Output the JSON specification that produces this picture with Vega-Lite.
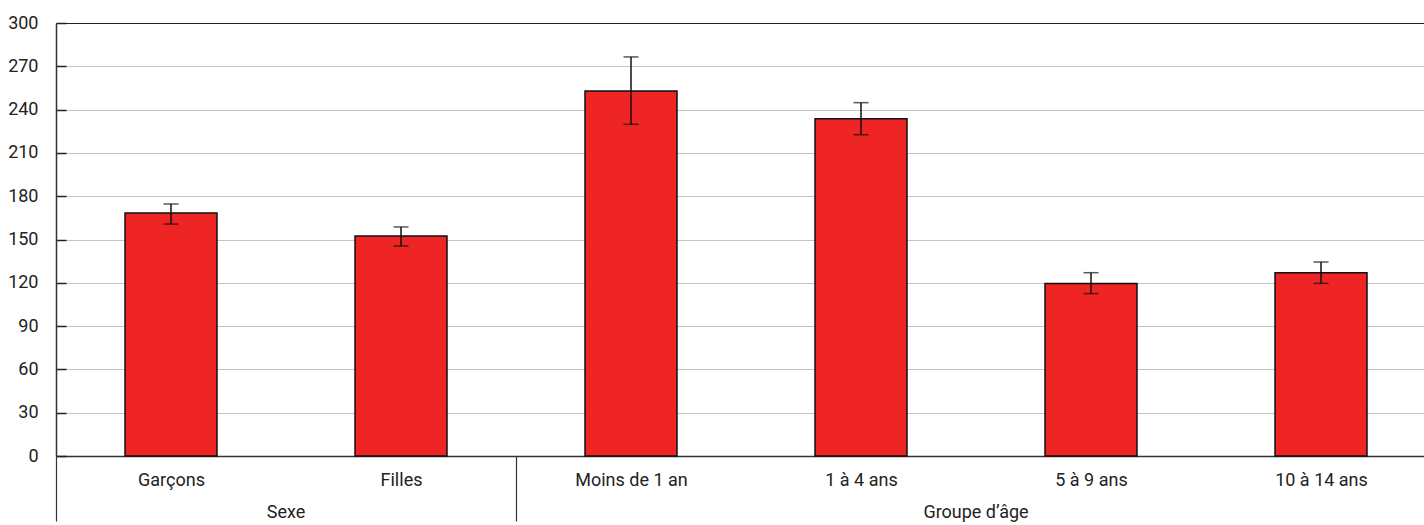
{
  "$schema": "https://vega.github.io/schema/vega-lite/v6.json",
  "width": 1380,
  "height": 433,
  "autosize": "none",
  "padding": {"left": 56, "top": 23, "right": 0, "bottom": 69},
  "background": "white",
  "config": {
    "view": {"stroke": null},
    "font": "Roboto",
    "axis": {"labelFont": "Roboto", "labelFontSize": 18, "labelColor": "#222"}
  },
  "datasets": {
    "bars": [
      {"cat": "Garçons", "group": "Sexe", "value": 168.4, "lo": 160.7, "hi": 174.6},
      {"cat": "Filles", "group": "Sexe", "value": 152.4, "lo": 145.5, "hi": 158.7},
      {"cat": "Moins de 1 an", "group": "Groupe d’âge", "value": 252.9, "lo": 229.8, "hi": 276.5},
      {"cat": "1 à 4 ans", "group": "Groupe d’âge", "value": 233.7, "lo": 222.6, "hi": 244.8},
      {"cat": "5 à 9 ans", "group": "Groupe d’âge", "value": 119.6, "lo": 112.5, "hi": 127.0},
      {"cat": "10 à 14 ans", "group": "Groupe d’âge", "value": 127.0, "lo": 119.6, "hi": 134.4}
    ],
    "groups": [
      {"cat": "Filles", "label": "Sexe"},
      {"cat": "5 à 9 ans", "label": "Groupe d’âge"}
    ]
  },
  "data": {"name": "bars"},
  "encoding": {
    "x": {
      "field": "cat",
      "type": "nominal",
      "sort": null,
      "scale": {"paddingInner": 0.6, "paddingOuter": 0.3},
      "axis": {
        "title": null,
        "labelAngle": 0,
        "domainColor": "#333",
        "domainWidth": 1.5,
        "tickSize": 65,
        "tickWidth": 1.2,
        "tickColor": "#333",
        "tickOffset": -115,
        "labelOffset": 115,
        "tickOpacity": {"condition": {"test": "datum.value === 'Garçons' || datum.value === 'Moins de 1 an'", "value": 1}, "value": 0},
        "labelPadding": -50,
        "labelBaseline": "top"
      }
    }
  },
  "layer": [
    {
      "mark": {"type": "bar", "fill": "#EE2524", "stroke": "#111", "strokeWidth": 1.5},
      "encoding": {
        "y": {
          "field": "value",
          "type": "quantitative",
          "scale": {"domain": [0, 300], "nice": false},
          "axis": {
            "title": null,
            "values": [0, 30, 60, 90, 120, 150, 180, 210, 240, 270, 300],
            "grid": true,
            "gridColor": {"condition": {"test": "datum.value === 300", "value": "#222"}, "value": "#c4c4c4"},
            "gridWidth": 1.2,
            "domainColor": "#333",
            "domainWidth": 1.5,
            "tickSize": -10,
            "tickColor": "#222",
            "tickWidth": 1.5,
            "labelPadding": 28
          }
        }
      }
    },
    {
      "mark": {"type": "rule", "color": "#111", "strokeWidth": 1.5},
      "encoding": {"y": {"field": "lo", "type": "quantitative"}, "y2": {"field": "hi"}}
    },
    {
      "mark": {"type": "tick", "color": "#111", "size": 15, "thickness": 1.5},
      "encoding": {"y": {"field": "hi", "type": "quantitative"}}
    },
    {
      "mark": {"type": "tick", "color": "#111", "size": 15, "thickness": 1.5},
      "encoding": {"y": {"field": "lo", "type": "quantitative"}}
    },
    {
      "data": {"name": "groups"},
      "mark": {"type": "text", "fontSize": 18, "color": "#222", "dy": 57, "baseline": "middle", "align": "center"},
      "encoding": {
        "x": {"field": "cat", "type": "nominal", "sort": null, "bandPosition": -0.75},
        "y": {"datum": 0, "type": "quantitative"},
        "text": {"field": "label"}
      }
    }
  ]
}
